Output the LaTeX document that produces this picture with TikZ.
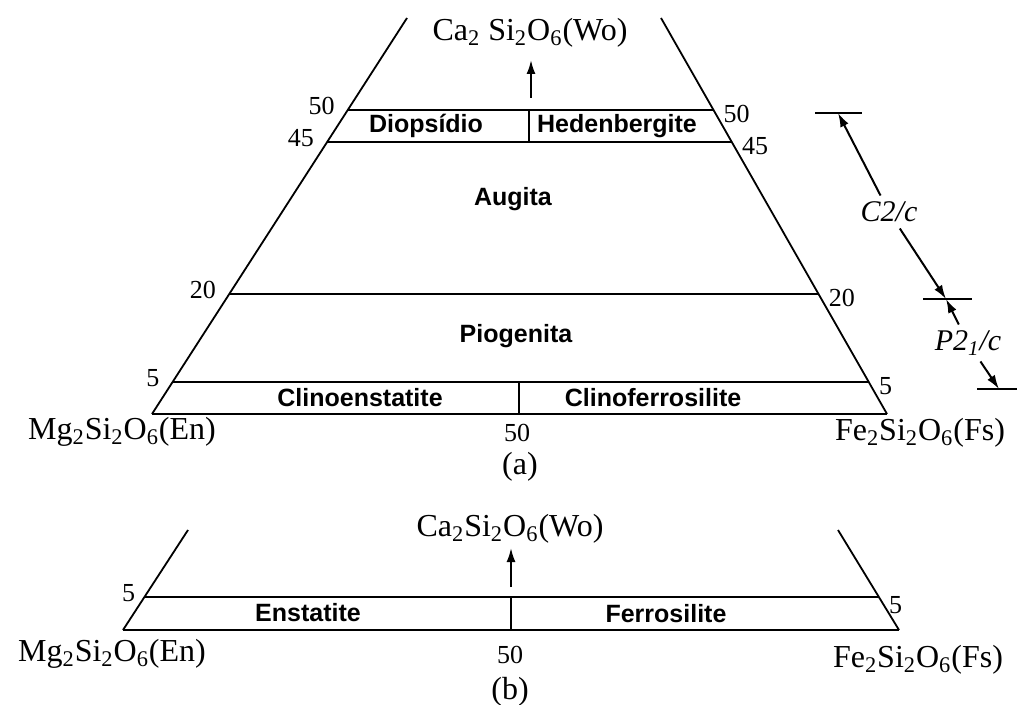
\documentclass[tikz,border=0pt]{standalone}
\usepackage{fontspec}
\setmainfont{Liberation Serif}
\setsansfont{Liberation Sans}
\usetikzlibrary{arrows.meta, calc}

\begin{document}
\begin{tikzpicture}[
  x=0.5pt, y=-0.5pt,
  side/.style={line width=0.9pt},
  level/.style={line width=1.3pt},
  tick/.style={line width=0.9pt},
  arrow/.style={-{Latex[length=7pt,width=4.5pt]}, line width=1pt},
  formula/.style={font=\fontsize{16}{19}\selectfont, inner sep=0pt},
  num/.style={font=\fontsize{13}{15}\selectfont, inner sep=0pt},
  mineral/.style={font=\sffamily\bfseries\fontsize{12.5}{14}\selectfont, inner sep=0pt},
  group/.style={font=\itshape\fontsize{15}{18}\selectfont, inner sep=3pt}
]
\useasboundingbox (0,0) rectangle (1017,705);

% (a) clinopyroxenes
\coordinate (en) at (152,414);
\coordinate (fs) at (887,414);
\coordinate (wl) at (407,18);
\coordinate (wr) at (661,18);

\draw[side] (wl) -- (en);
\draw[side] (wr) -- (fs);
\draw[level] (en) -- (fs);

\foreach \t/\n in {0.768/50, 0.687/45, 0.303/20, 0.081/5}{
  \draw[level] ($(en)!\t!(wl)$) node[num, left=6pt, yshift=2pt] (la\n) {\n}
    -- ($(fs)!\t!(wr)$) node[num, right=4.5pt, yshift=-2pt] (ra\n) {\n};
}
\draw[side] (529,110) -- (529,142);
\draw[side] (519,382) -- (519,414);

\node[formula] (wo) at (530,33) {Ca\textsubscript{2} Si\textsubscript{2}O\textsubscript{6}(Wo)};
\coordinate (woA) at (531,98);
\coordinate (woB) at (531,60);
\draw[arrow] (woA) -- (woB);

\node[mineral] (diop) at (426,126) {Diopsídio};
\node[mineral] (hed) at (617,126) {Hedenbergite};
\node[mineral] (aug) at (513,199) {Augita};
\node[mineral] (pig) at (516,336) {Piogenita};
\node[mineral] (cen) at (360,398) {Clinoenstatite};
\node[mineral] (cfs) at (653,398) {Clinoferrosilite};

\node[formula] (mga) at (122,432) {Mg\textsubscript{2}Si\textsubscript{2}O\textsubscript{6}(En)};
\node[num] (mida) at (517,433) {50};
\node[formula] (fea) at (920,433) {Fe\textsubscript{2}Si\textsubscript{2}O\textsubscript{6}(Fs)};
\node[formula] (capa) at (520,467) {(a)};

% space groups
\coordinate (tA) at (838,113);
\coordinate (tB) at (946,299);
\coordinate (tC) at (999,389);
\draw[tick] (815,113) -- (862,113);
\draw[tick] (923,299) -- (972,299);
\draw[tick] (977,389) -- (1017,389);
\node[group] (c2c) at (889,212) {C2/c};
\node[group] (p21c) at (968,343) {P2\textsubscript{1}/c};
\draw[arrow] (c2c) -- (tA);
\draw[arrow] (c2c) -- (tB);
\draw[arrow] (p21c) -- (tB);
\draw[arrow] (p21c) -- (tC);

% (b) orthopyroxenes
\coordinate (en2) at (123,630);
\coordinate (fs2) at (899,630);
\coordinate (wl2) at (188,530);
\coordinate (wr2) at (838,530);

\draw[side] (wl2) -- (en2);
\draw[side] (wr2) -- (fs2);
\draw[level] (en2) -- (fs2);
\draw[level] ($(en2)!0.33!(wl2)$) node[num, left=4pt, yshift=2pt] (lb5) {5}
  -- ($(fs2)!0.33!(wr2)$) node[num, right=4.5pt, yshift=-4pt] (rb5) {5};
\draw[side] (511,597) -- (511,630);

\node[formula] (wo2) at (510,529) {Ca\textsubscript{2}Si\textsubscript{2}O\textsubscript{6}(Wo)};
\coordinate (wo2A) at (511,587);
\coordinate (wo2B) at (511,548);
\draw[arrow] (wo2A) -- (wo2B);

\node[mineral] (ens) at (308,613) {Enstatite};
\node[mineral] (fer) at (666,614) {Ferrosilite};

\node[formula] (mgb) at (112,654) {Mg\textsubscript{2}Si\textsubscript{2}O\textsubscript{6}(En)};
\node[num] (midb) at (510,655) {50};
\node[formula] (feb) at (918,660) {Fe\textsubscript{2}Si\textsubscript{2}O\textsubscript{6}(Fs)};
\node[formula] (capb) at (510,692) {(b)};
\end{tikzpicture}
\end{document}
